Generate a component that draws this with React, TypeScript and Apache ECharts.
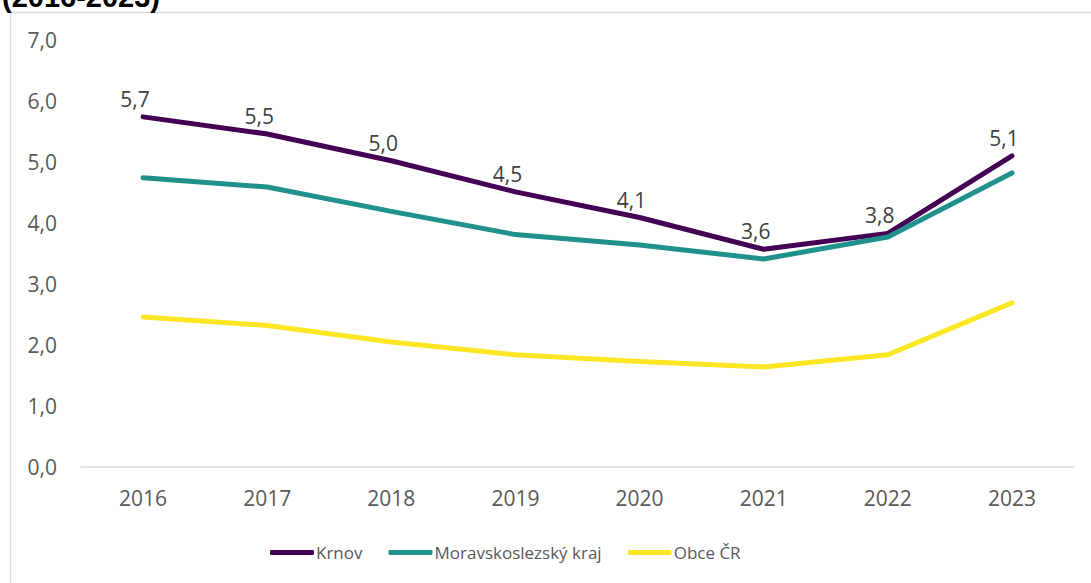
import React, { useEffect, useRef } from "react";
import * as echarts from "echarts";

const years = ["2016", "2017", "2018", "2019", "2020", "2021", "2022", "2023"];
const krnov = [5.74, 5.46, 5.02, 4.51, 4.09, 3.57, 3.83, 5.1];
const msk = [4.74, 4.59, 4.19, 3.81, 3.64, 3.41, 3.77, 4.82];
const obce = [2.46, 2.32, 2.05, 1.84, 1.73, 1.64, 1.84, 2.69];
const seriesNames = ["Krnov", "Moravskoslezský kraj", "Obce ČR"];
const titleText = "(2016-2023)";

const FONT = "'Open Sans', 'Noto Sans', sans-serif";
const fmt = (v: number) => v.toFixed(1).replace(".", ",");

export default function App() {
  const ref = useRef<HTMLDivElement>(null);
  useEffect(() => {
    if (!ref.current) return;
    const chart = echarts.init(ref.current, null, { renderer: "svg" });
    const lineSeries = (name: string, data: number[], color: string, labels: boolean) => ({
      name,
      type: "line",
      data,
      showSymbol: labels,
      symbol: "circle",
      symbolSize: 1,
      lineStyle: { color, width: 5, cap: "round", join: "round" },
      itemStyle: { color },
      label: labels
        ? {
            show: true,
            position: "top",
            distance: 7,
            offset: [-8, 0],
            color: "#404040",
            fontSize: 21,
            fontFamily: FONT,
            formatter: (p: any) => fmt(p.value),
          }
        : { show: false },
      emphasis: { disabled: true },
    });
    chart.setOption({
      animation: false,
      textStyle: { fontFamily: FONT },
      graphic: [
        {
          type: "rect",
          shape: { x: 10.5, y: 12.5, width: 1200, height: 700 },
          style: { fill: "none", stroke: "#d9d9d9", lineWidth: 1.5 },
          silent: true,
        },
        {
          type: "text",
          x: 2,
          y: -3,
          style: {
            text: titleText,
            font: "bold 29px 'Liberation Sans', Arial, sans-serif",
            fill: "#000000",
            verticalAlign: "middle",
            align: "left",
          },
        },
      ],
      grid: { left: 81, right: 17, top: 40, bottom: 116 },
      legend: {
        bottom: 17,
        left: 265,
        icon: "roundRect",
        itemWidth: 44,
        itemHeight: 5,
        itemGap: 26,
        data: seriesNames,
        textStyle: { color: "#595959", fontSize: 17, fontFamily: FONT, padding: [0, 0, 0, -3] },
      },
      xAxis: {
        type: "category",
        data: years,
        boundaryGap: true,
        axisLine: { lineStyle: { color: "#d9d9d9", width: 1.5 } },
        axisTick: { show: false },
        axisLabel: { color: "#595959", fontSize: 21, fontFamily: FONT, margin: 20 },
      },
      yAxis: {
        type: "value",
        min: 0,
        max: 7,
        interval: 1,
        axisLine: { show: false },
        axisTick: { show: false },
        splitLine: { show: false },
        axisLabel: {
          color: "#595959",
          fontSize: 21,
          fontFamily: FONT,
          margin: 24,
          formatter: (v: number) => fmt(v),
        },
      },
      series: [
        lineSeries(seriesNames[0], krnov, "#440154", true),
        lineSeries(seriesNames[1], msk, "#21918c", false),
        lineSeries(seriesNames[2], obce, "#fde725", false),
      ],
    });
    return () => chart.dispose();
  }, []);
  return (
    <div
      ref={ref}
      style={{ position: "fixed", left: 0, top: 0, width: 1091, height: 583, background: "#ffffff" }}
    />
  );
}
